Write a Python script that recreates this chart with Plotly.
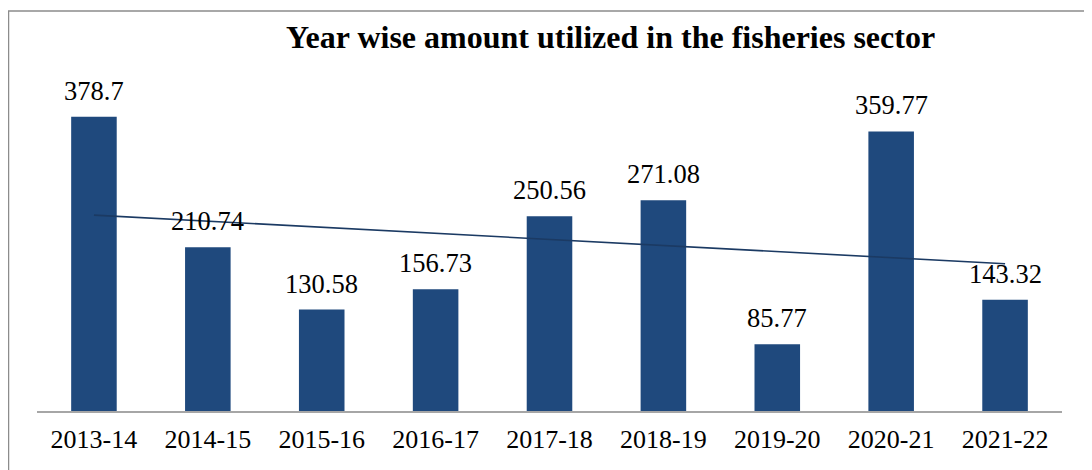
import numpy as np
import plotly.graph_objects as go

years = ["2013-14", "2014-15", "2015-16", "2016-17", "2017-18",
         "2018-19", "2019-20", "2020-21", "2021-22"]
amounts = [378.7, 210.74, 130.58, 156.73, 250.56, 271.08, 85.77, 359.77, 143.32]
labels = ["378.7", "210.74", "130.58", "156.73", "250.56", "271.08", "85.77", "359.77", "143.32"]

idx = np.arange(len(amounts))
slope, intercept = np.polyfit(idx, amounts, 1)
trend = slope * idx + intercept

FONT = "Liberation Serif, Times New Roman, serif"

# page has an 8px body margin; work in page pixels and convert
OFF = 8
W, H = 1084, 462
L, R, T, B = 37 - OFF, 30, 60 - OFF, 59
pw, ph = W - L - R, H - T - B

def px(x):
    return (x - OFF - L) / pw

def py(y):
    return (H - B - (y - OFF)) / ph

fig = go.Figure()
fig.add_trace(go.Bar(x=years, y=amounts, marker_color="#1F497D",
                     marker_line_width=0, hoverinfo="y"))
fig.add_trace(go.Scatter(x=years, y=trend, mode="lines",
                         line=dict(color="#1B3A63", width=1.6), hoverinfo="skip"))

for yr, v, t in zip(years, amounts, labels):
    fig.add_annotation(x=yr, y=v, text=t, showarrow=False, yanchor="bottom",
                       yshift=9, font=dict(family=FONT, size=26.5, color="#000000"))

fig.add_annotation(x=px(610), y=py(37), xref="paper", yref="paper",
                   text="<b>Year wise amount utilized in the fisheries sector</b>",
                   showarrow=False, xanchor="center", yanchor="middle",
                   font=dict(family=FONT, size=32, color="#000000"))

fig.add_shape(type="rect", xref="paper", yref="paper",
              x0=px(8.5), x1=px(1090), y0=py(490), y1=py(11),
              line=dict(color="#8C8C8C", width=1.5), layer="below")

fig.update_layout(
    width=W, height=H,
    margin=dict(l=L, r=R, t=T, b=B),
    paper_bgcolor="white", plot_bgcolor="white",
    showlegend=False, bargap=0.6,
    font=dict(family=FONT, size=20, color="#000000"),
    xaxis=dict(showline=True, linecolor="#A6A6A6", linewidth=2, ticks="",
               ticklabelstandoff=4,
               tickfont=dict(family=FONT, size=26, color="#000000"),
               showgrid=False, zeroline=False),
    yaxis=dict(range=[0, ph / 0.777], visible=False, showgrid=False, zeroline=False),
)

fig.write_html("out.html")
